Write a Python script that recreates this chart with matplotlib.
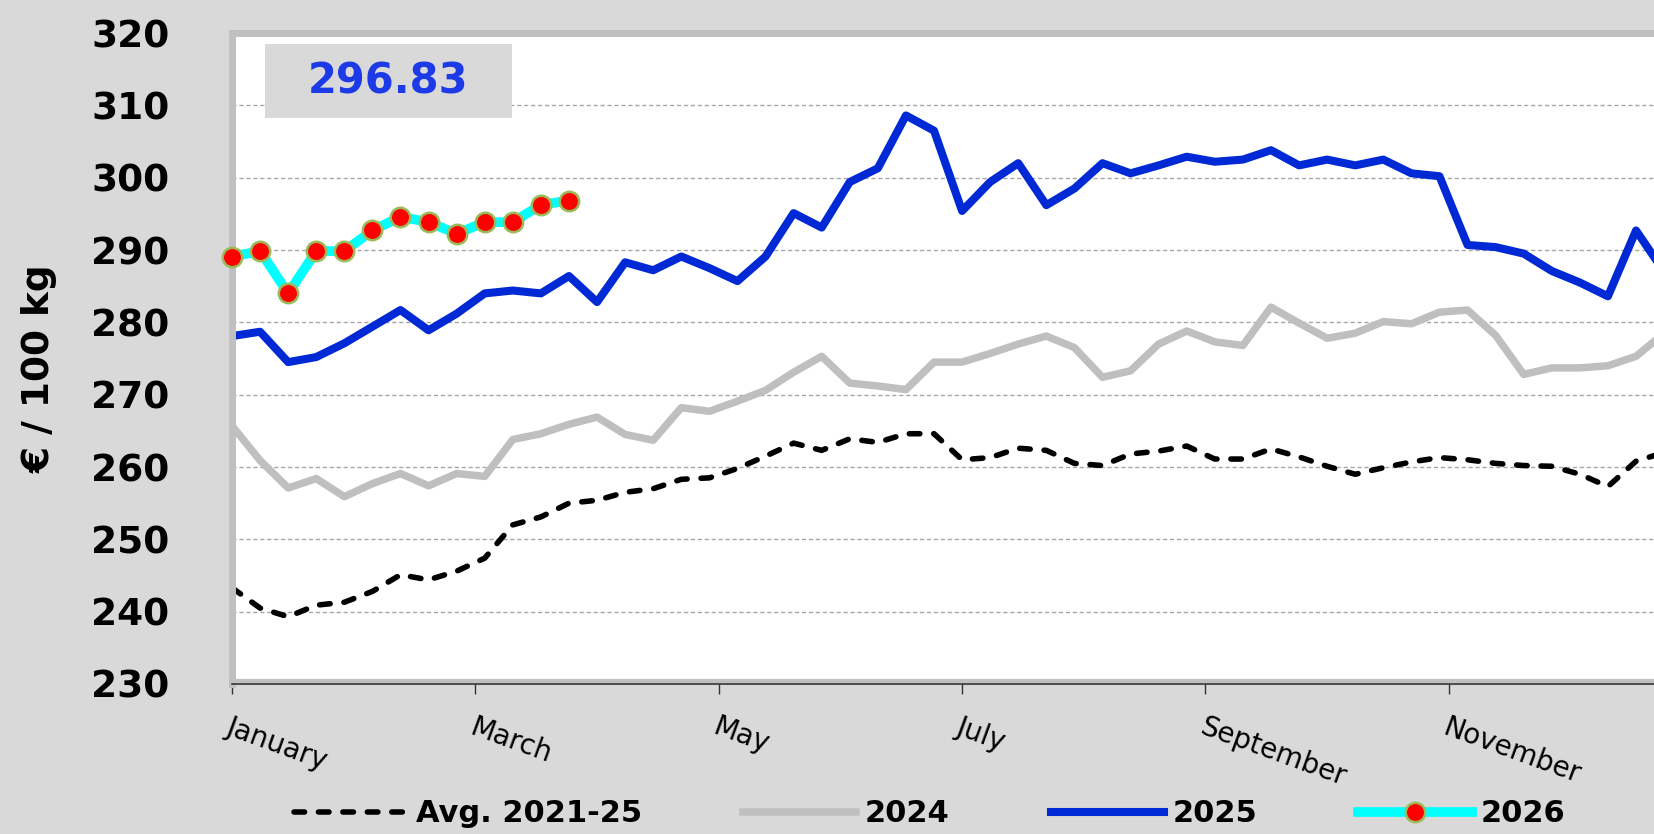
import matplotlib
matplotlib.use("Agg")
import matplotlib.pyplot as plt
from matplotlib.patches import Rectangle

# weekly prices, EUR / 100 kg (week 1 = first point)
avg_2021_25 = [243.3, 240.5, 239.3, 240.9, 241.3, 242.8, 245.1, 244.4, 245.6, 247.4,
               252.0, 253.1, 255.0, 255.4, 256.5, 257.0, 258.3, 258.5, 259.8, 261.5,
               263.3, 262.3, 263.9, 263.4, 264.6, 264.6, 261.0, 261.3, 262.6, 262.3,
               260.5, 260.2, 261.8, 262.2, 262.9, 261.1, 261.1, 262.5, 261.4, 260.1,
               259.0, 259.9, 260.7, 261.3, 261.0, 260.5, 260.2, 260.1, 259.0, 257.3,
               260.8, 262.0]
y2024 = [265.7, 260.9, 257.1, 258.4, 255.9, 257.7, 259.1, 257.4, 259.1, 258.7,
         263.8, 264.6, 265.9, 266.9, 264.5, 263.7, 268.2, 267.7, 269.1, 270.6,
         273.1, 275.3, 271.6, 271.2, 270.7, 274.5, 274.5, 275.7, 277.0, 278.1,
         276.5, 272.4, 273.3, 277.0, 278.8, 277.3, 276.8, 282.1, 279.9, 277.8,
         278.5, 280.1, 279.8, 281.4, 281.7, 278.2, 272.8, 273.7, 273.7, 274.0,
         275.3, 278.5]
y2025 = [278.1, 278.7, 274.5, 275.2, 277.1, 279.4, 281.7, 278.9, 281.2, 284.0,
         284.4, 284.0, 286.4, 282.8, 288.3, 287.2, 289.1, 287.5, 285.7, 289.1,
         295.1, 293.1, 299.4, 301.3, 308.6, 306.5, 295.4, 299.4, 302.0, 296.2,
         298.5, 302.0, 300.6, 301.7, 302.9, 302.2, 302.5, 303.8, 301.7, 302.5,
         301.7, 302.5, 300.6, 300.2, 290.7, 290.4, 289.5, 287.1, 285.5, 283.6,
         292.7, 287.0]
y2026 = [289.1, 289.85, 284.0, 289.85, 289.85, 292.7, 294.6, 293.85, 292.25, 293.85,
         293.85, 296.25, 296.83]

months = ["January", "March", "May", "July", "September", "November"]
series_labels = ["Avg. 2021-25", "2024", "2025", "2026"]

bg = "#d9d9d9"
fig = plt.figure(figsize=(16.54, 8.34), dpi=100, facecolor=bg)
ax = fig.add_axes([232 / 1654, 1 - 684 / 834, 1 - 232 / 1654, (684 - 33) / 834])
ax.set_facecolor("white")

weeks = list(range(len(y2025)))
ax.plot(range(len(avg_2021_25)), avg_2021_25, color="black", lw=4.0,
        dashes=(1.9, 2.5), dash_capstyle="round", label=series_labels[0])
ax.plot(range(len(y2024)), y2024, color="#bfbfbf", lw=5.4, label=series_labels[1])
ax.plot(weeks, y2025, color="#0029d6", lw=5.8, label=series_labels[2])
ax.plot(range(len(y2026)), y2026, color="#00ffff", lw=7, marker="o", ms=14,
        mfc="#ff0000", mec="#9bbb59", mew=1.8, clip_on=False,
        label=series_labels[3], zorder=5)

ax.set_ylim(230, 320)
ax.set_xlim(0, 50.64)
ax.set_yticks(range(230, 321, 10))
ax.grid(axis="y", color="#a6a6a6", linestyle=(0, (3, 2)), lw=1.0)
ax.set_axisbelow(True)

ax.set_xticks([i * 52 / 6 for i in range(6)])
ax.set_xticklabels(months, rotation=-20, ha="left", va="top",
                   rotation_mode="anchor", fontsize=20)
ax.tick_params(axis="x", direction="out", length=7, width=1, color="#333333", pad=14)
ax.tick_params(axis="y", length=0, pad=45, labelsize=27)
for t in ax.get_yticklabels():
    t.set_fontweight("bold")

for side in ["top", "left"]:
    ax.spines[side].set_color("#c0c0c0")
    ax.spines[side].set_linewidth(5)
ax.spines["right"].set_visible(False)
ax.spines["bottom"].set_color("#333333")
ax.spines["bottom"].set_linewidth(1.2)
ax.axhline(230.35, color="#c0c0c0", lw=3, zorder=0.5)

fig.text(40 / 1654, 1 - 369 / 834, "€ / 100 kg", rotation=90, ha="center",
         va="center", fontsize=27, fontweight="bold")

# latest value box
fig.add_artist(Rectangle((265 / 1654, 1 - 118 / 834), 247 / 1654, 74 / 834,
                         transform=fig.transFigure, facecolor=bg, edgecolor="none"))
fig.text(388.5 / 1654, 1 - 81 / 834, f"{y2026[-1]:.2f}", ha="center", va="center",
         fontsize=30, fontweight="bold", color="#1c3ae6")

fig.legend(loc="center", bbox_to_anchor=(0.562, 1 - 814 / 834), ncol=4,
           frameon=False, handlelength=3.7, handletextpad=0.3, columnspacing=3.3,
           numpoints=1, prop={"weight": "bold", "size": 22})

fig.savefig("out.png", dpi=100, facecolor=bg)
